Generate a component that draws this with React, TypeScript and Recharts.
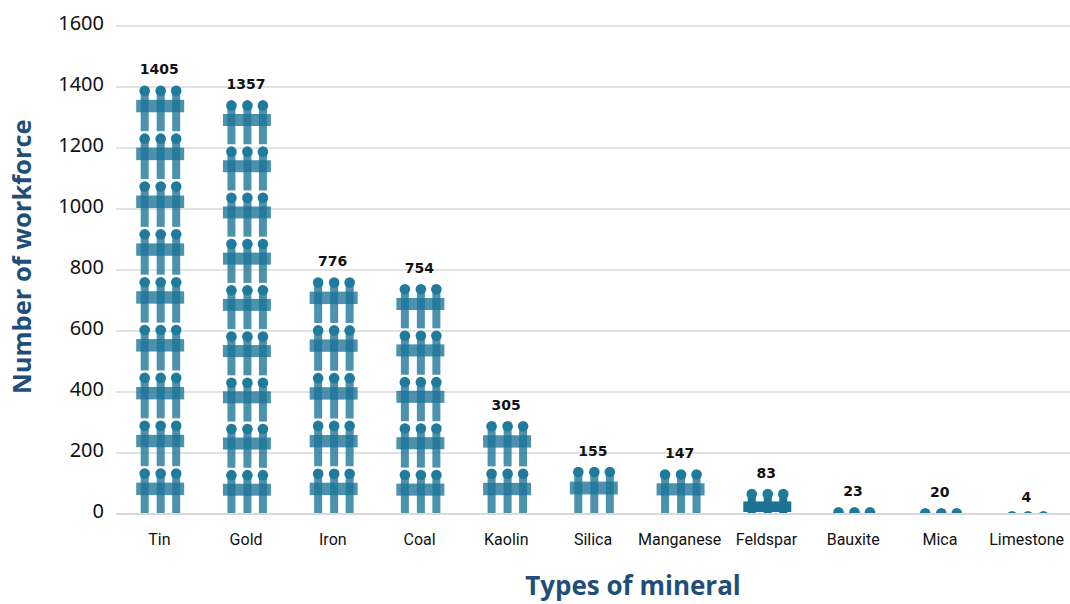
import React from "react";
import { BarChart, Bar, XAxis, YAxis, CartesianGrid, LabelList } from "recharts";

const minerals = ["Tin", "Gold", "Iron", "Coal", "Kaolin", "Silica", "Manganese", "Feldspar", "Bauxite", "Mica", "Limestone"];
const workforce = [1405, 1357, 776, 754, 305, 155, 147, 83, 23, 20, 4];
const yTicks = [0, 200, 400, 600, 800, 1000, 1200, 1400, 1600];

const chartData = minerals.map((name, i) => ({ name, value: workforce[i] }));

const UNITS_PER_ICON = 155;
const HEAD_COLOR = "#1f7a9b";
const BODY_COLOR = "#1b7396";

// one stacked "fence" pictogram, stretched to fit like a spreadsheet picture fill
const FenceBar = (props: any) => {
  const { x, y, width, height, value, index } = props;
  const cx = x + width / 2 + 1;
  const count = Math.max(1, Math.round(value / UNITS_PER_ICON));
  const tile = height / (count - 0.045);
  const clipId = `fence-clip-${index}`;
  const offsets = [-15.5, 0.5, 16];
  const short = tile < 40;
  // very small values still show the tip of the heads above the baseline
  const startY = Math.min(y, y + height - 3);
  const icons = [];

  for (let i = 0; i < count; i++) {
    const top = startY + i * tile;
    const barTop = top + (short ? 0.48 : 0.3) * tile;
    const barHeight = (short ? 0.4 : 0.26) * tile;
    const legEnd = top + tile * 0.955;
    icons.push(
      <g key={i}>
        {tile >= 20 &&
          offsets.map((o) => (
            <rect key={o} x={cx + o - 4} y={top + 5} width={8} height={legEnd - top - 5} fill={BODY_COLOR} fillOpacity={short ? 1 : 0.78} />
          ))}
        {tile >= 20 && (
          <rect x={cx - 24} y={barTop} width={48} height={barHeight} fill={BODY_COLOR} fillOpacity={short ? 1 : 0.78} />
        )}
        {offsets.map((o) => (
          <circle key={o} cx={cx + o} cy={top + 5.3} r={5.3} fill={HEAD_COLOR} />
        ))}
      </g>
    );
  }

  return (
    <g>
      <clipPath id={clipId}>
        <rect x={x - 30} y={startY - 1} width={width + 60} height={y + height - startY + 1} />
      </clipPath>
      <g clipPath={`url(#${clipId})`}>{icons}</g>
    </g>
  );
};

// y tick sits a little above its gridline
const ValueTick = ({ x, y, payload }: any) => (
  <text x={x} y={y + 4} textAnchor="end" fill="#111" fontSize={20} fontFamily="Noto Sans">
    {payload.value}
  </text>
);

export default function App() {
  return (
    <div style={{ width: 1070, height: 604, overflow: "hidden" }}>
      <style>{"body{margin:0;background:#fff}"}</style>
      <BarChart width={1070} height={604} data={chartData} margin={{ top: 26, right: 0, bottom: 0, left: 0 }} barCategoryGap="40%">
        <CartesianGrid vertical={false} stroke="#e2e2e2" strokeWidth={2} />
        <XAxis
          dataKey="name"
          interval={0}
          height={90}
          tickLine={false}
          axisLine={{ stroke: "#d9d9d9", strokeWidth: 2 }}
          tick={{ fill: "#111", fontSize: 16, fontFamily: "Roboto" }}
          tickMargin={14}
          label={{ value: "Types of mineral", position: "insideBottom", dx: 40, dy: -4, fill: "#1f4e79", fontSize: 26, fontWeight: 700, fontFamily: "Open Sans" }}
        />
        <YAxis
          width={116}
          domain={[0, 1600]}
          ticks={yTicks}
          tickLine={false}
          axisLine={false}
          tick={<ValueTick />}
          tickMargin={6}
          label={{ value: "Number of workforce", angle: -90, position: "insideLeft", dx: 17, dy: 124, fill: "#1f4e79", fontSize: 25.5, fontWeight: 700, fontFamily: "Open Sans" }}
        />
        <Bar dataKey="value" isAnimationActive={false} shape={<FenceBar />}>
          <LabelList dataKey="value" position="top" offset={11} fill="#111" fontSize={14} fontWeight={700} fontFamily="DejaVu Sans" />
        </Bar>
      </BarChart>
    </div>
  );
}
